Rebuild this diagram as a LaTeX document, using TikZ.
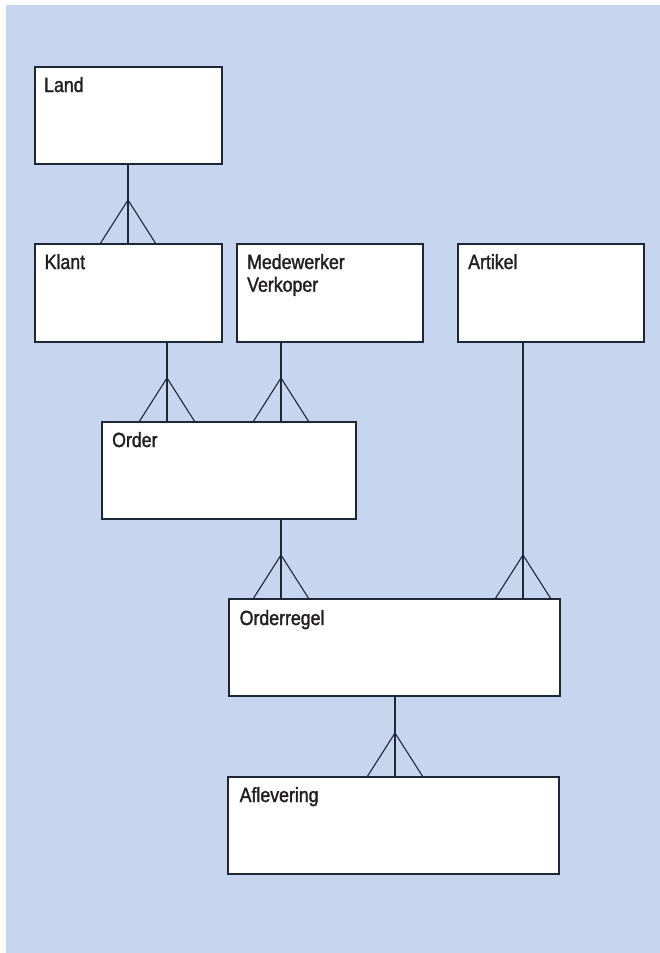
\documentclass[tikz,border=0pt]{standalone}
\usepackage{fontspec}
\setmainfont{Liberation Sans}[FakeStretch=0.865,FakeBold=1.6]
\definecolor{bgblue}{RGB}{199,213,238}
\definecolor{edge}{RGB}{28,40,56}
\definecolor{ink}{RGB}{35,31,32}
\tikzset{
  entity/.style={draw=edge, fill=white, line width=1.2pt, inner sep=0pt, outer sep=0pt, anchor=north west},
  etext/.style={text=ink, inner sep=0pt, anchor=base west, align=left, font=\fontsize{20.5}{22.7}\selectfont},
  rel/.style={draw=edge, line width=1.1pt},
}
\newcommand\erlink[3]{%
  \draw[rel] (#1.south -| #3) -- (#2.north -| #3);
  \draw[rel] ([xshift=-28pt]#2.north -| #3) -- ([yshift=44pt]#2.north -| #3) -- ([xshift=28pt]#2.north -| #3);
}
\begin{document}
\begin{tikzpicture}[x=1pt,y=-1pt]
\useasboundingbox (0,0) rectangle (660,953);
\fill[bgblue] (6,5) rectangle (660,953);
\node[entity, minimum width=187pt, minimum height=97pt] (land) at (35,67) {};
\node[entity, minimum width=187pt, minimum height=98pt] (klant) at (35,244) {};
\node[entity, minimum width=186pt, minimum height=98pt] (mede) at (237,244) {};
\node[entity, minimum width=186pt, minimum height=98pt] (artikel) at (458,244) {};
\node[entity, minimum width=254pt, minimum height=97pt] (order) at (102,422) {};
\node[entity, minimum width=331pt, minimum height=97pt] (regel) at (229,599) {};
\node[entity, minimum width=331pt, minimum height=97pt] (aflev) at (228,777) {};
\node[etext] (landt) at ([xshift=9pt,yshift=-25pt]land.north west) {Land};
\node[etext] (klantt) at ([xshift=9.5pt,yshift=-25pt]klant.north west) {Klant};
\node[etext] (medet) at ([xshift=10pt,yshift=-47.7pt]mede.north west) {Medewerker\\Verkoper};
\node[etext] (artikelt) at ([xshift=10pt,yshift=-25pt]artikel.north west) {Artikel};
\node[etext] (ordert) at ([xshift=10pt,yshift=-25pt]order.north west) {Order};
\node[etext] (regelt) at ([xshift=10.5pt,yshift=-26pt]regel.north west) {Orderregel};
\node[etext] (aflevt) at ([xshift=11.5pt,yshift=-25pt]aflev.north west) {Aflevering};
\coordinate (x1) at (128,0);
\coordinate (x2) at (167,0);
\coordinate (x3) at (281,0);
\coordinate (x4) at (523,0);
\coordinate (x5) at (395,0);
\erlink{land}{klant}{x1}
\erlink{klant}{order}{x2}
\erlink{mede}{order}{x3}
\erlink{artikel}{regel}{x4}
\erlink{order}{regel}{x3}
\erlink{regel}{aflev}{x5}
\end{tikzpicture}
\end{document}
